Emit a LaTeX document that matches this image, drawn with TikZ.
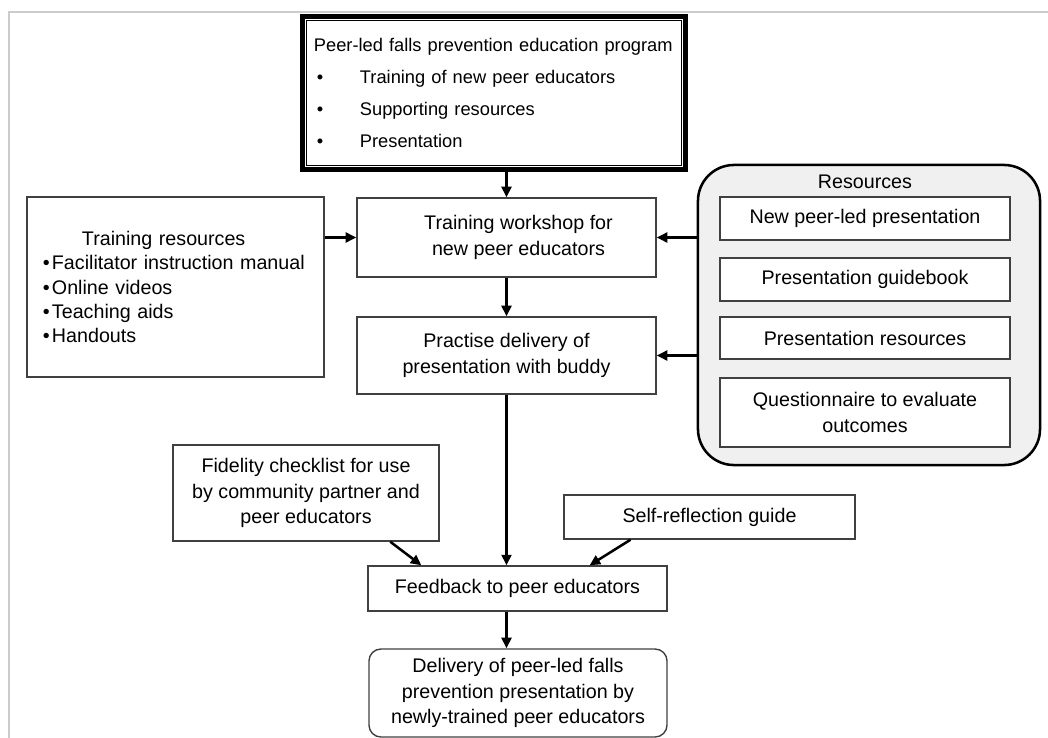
\documentclass[tikz,border=0pt]{standalone}
\usepackage{fontspec}
\setmainfont{Liberation Sans}
\usetikzlibrary{arrows.meta,calc}
\newcommand{\bul}{\makebox[1.15cm][l]{\hspace{2pt}\textbullet}}

\begin{document}
\begin{tikzpicture}[x=0.025cm,y=-0.025cm,
  box/.style={draw=black!75,line width=1pt,align=center,inner sep=0pt,text=black,font=\fontsize{14}{18.4}\selectfont},
  resbox/.style={box,fill=white,minimum width=7.25cm},
  arr/.style={-{Triangle[length=7.5pt,width=7pt]},line width=1.8pt,black}]
  \useasboundingbox (0,0) rectangle (1048,738);
  % page frame
  \draw[black!20,line width=1.5pt] (9,738) -- (9,12) -- (1048,12);
  % programme box
  \node (prog) at (494,93) [draw=black,line width=3.5pt,minimum width=9.575cm,minimum height=3.825cm,text width=9cm,inner xsep=0.29cm,inner ysep=0pt,align=left,text=black,font=\fontsize{13}{22.7}\selectfont] {Peer-led falls prevention education program\\ \bul Training of new peer educators\\ \bul Supporting resources\\ \bul Presentation};
  \draw[black,line width=1pt] ($(prog.north west)+(6.5,6.5)$) rectangle ($(prog.south east)+(-6.5,-6.5)$);
  % centre column
  \node (work) at (506.5,237.5) [box,minimum width=7.475cm,minimum height=1.975cm] {\hspace*{0.6cm}Training workshop for\\ \hspace*{0.6cm}new peer educators};
  \node (prac) at (506.5,355.5) [box,minimum width=7.475cm,minimum height=1.925cm] {Practise delivery of\\ presentation with buddy};
  \node (feed) at (517.5,588.5) [box,minimum width=7.475cm,minimum height=1.125cm] {Feedback to peer educators};
  \node (deliv) at (518,693) [box,rounded corners=0.3cm,minimum width=7.45cm,minimum height=2.2cm] {Delivery of peer-led falls\\ prevention presentation by\\ newly-trained peer educators};
  % left side
  \node (trres) at (175.5,287) [box,align=left,text width=6.625cm,inner xsep=0.4cm,minimum height=4.5cm,font=\fontsize{14}{17.4}\selectfont] {\hspace*{0.975cm}Training resources\\ \textbullet\hspace{1.5pt}Facilitator instruction manual\\ \textbullet\hspace{1.5pt}Online videos\\ \textbullet\hspace{1.5pt}Teaching aids\\ \textbullet\hspace{1.5pt}Handouts};
  \node (fid) at (306,493) [box,minimum width=6.65cm,minimum height=2.4cm] {Fidelity checklist for use\\ by community partner and\\ peer educators};
  \node (self) at (709.5,517) [box,minimum width=7.275cm,minimum height=1.1cm] {Self-reflection guide};
  % resources group
  \node (resgrp) at (869,315) [draw=black,line width=1.8pt,fill=black!6,rounded corners=0.9cm,minimum width=8.55cm,minimum height=7.5cm] {};
  \node (restitle) at (865,182) [text=black,font=\fontsize{14}{18.4}\selectfont] {Resources};
  \node (r1) at (865,218.5) [resbox,minimum height=1.075cm] {New peer-led presentation};
  \node (r2) at (865,279.5) [resbox,minimum height=1.075cm] {Presentation guidebook};
  \node (r3) at (865,338) [resbox,minimum height=1.05cm] {Presentation resources};
  \node (r4) at (865,412.5) [resbox,minimum height=1.725cm] {Questionnaire to evaluate\\ outcomes};
  % connectors
  \draw[arr] (work.north |- prog.south) -- (work.north);
  \draw[arr] (trres.east |- work.west) -- (work.west);
  \draw[arr] (resgrp.west |- work.east) -- (work.east);
  \draw[arr] (resgrp.west |- prac.east) -- (prac.east);
  \draw[arr] (work.south) -- (prac.north);
  \draw[arr] (prac.south) -- (prac.south |- feed.north);
  \draw[arr] ($(fid.south)!0.63!(fid.south east)$) -- ($(feed.north west)!0.18!(feed.north east)$);
  \draw[arr] ($(self.south west)!0.23!(self.south east)$) -- ($(feed.north west)!0.74!(feed.north east)$);
  \draw[arr] (prac.south |- feed.south) -- (prac.south |- deliv.north);
\end{tikzpicture}
\end{document}
